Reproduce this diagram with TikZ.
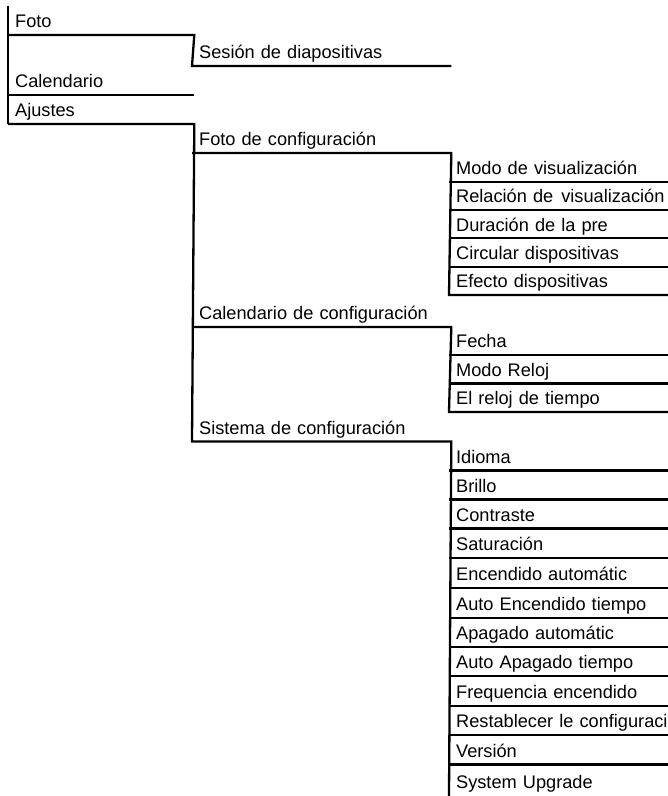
\documentclass[tikz,border=0pt]{standalone}
\usepackage{fontspec}
\setmainfont{Liberation Sans}
\begin{document}
\begin{tikzpicture}[x=1pt, y=-1pt, line width=2.3pt,
  item/.style={anchor=south west, inner xsep=6pt, inner ysep=2pt, text height=19pt, text depth=4pt, font=\fontsize{18.2}{20}\selectfont},
  lvlnull/.style={item, text width=172pt},
  lvleins/.style={item, text width=245pt},
  lvlzwei/.style={item, text width=216pt}]
\useasboundingbox (0,0) rectangle (668,796);
\node[lvlnull] (foto) at (8,35) {Foto};
\node[lvlnull] (calendario) at (8,95) {Calendario};
\node[lvlnull] (ajustes) at (8,124) {Ajustes};
\node[lvleins] (sesion) at (192,66) {Sesión de diapositivas};
\node[lvleins] (fotocfg) at (192,153) {Foto de configuración};
\node[lvleins] (calcfg) at (192,327) {Calendario de configuración};
\node[lvleins] (sistcfg) at (192,441.5) {Sistema de configuración};
\node[lvlzwei] (modo) at (449,181.7) {Modo de visualización};
\node[lvlzwei] (relacion) at (449,210) {Relación de{\kern2pt} visualización};
\node[lvlzwei] (duracion) at (449,238.3) {Duración de la pre};
\node[lvlzwei] (circular) at (449,266.7) {Circular dispositivas};
\node[lvlzwei] (efecto) at (449,295) {Efecto dispositivas};
\node[lvlzwei] (fecha) at (449,355) {Fecha};
\node[lvlzwei] (modoreloj) at (449,383.5) {Modo Reloj};
\node[lvlzwei] (reloj) at (449,412) {El reloj de tiempo};
\node[lvlzwei] (idioma) at (449,470.5) {Idioma};
\node[lvlzwei] (brillo) at (449,499.5) {Brillo};
\node[lvlzwei] (contraste) at (449,528.5) {Contraste};
\node[lvlzwei] (saturacion) at (449,558) {Saturación};
\node[lvlzwei] (encauto) at (449,588) {Encendido automátic};
\node[lvlzwei] (enctiempo) at (449,617.7) {Auto Encendido tiempo};
\node[lvlzwei] (apaauto) at (449,646.7) {Apagado automátic};
\node[lvlzwei] (apatiempo) at (449,676) {Auto Apagado tiempo};
\node[lvlzwei] (frecuencia) at (449,705.7) {Frequencia encendido};
\node[lvlzwei] (reset) at (449,735) {Restablecer le configuraci};
\node[lvlzwei] (version) at (449,764.5) {Versión};
\node[lvlzwei] (upgrade) at (449,796) {System Upgrade};
\draw (foto.north west) -- (ajustes.south west);
\draw (foto.south west) -- (foto.south east) -- (sesion.south west) -- (sesion.south east);
\draw (calendario.south west) -- (calendario.south east);
\draw (ajustes.south west) -- (ajustes.south east) -- (sistcfg.south west) -- (sistcfg.south east) -- (upgrade.south west);
\draw (fotocfg.south west) -- (fotocfg.south east) -- (efecto.south west) -- (efecto.south east);
\draw (calcfg.south west) -- (calcfg.south east) -- (reloj.south west) -- (reloj.south east);
\draw (modo.south west) -- (modo.south east);
\draw (relacion.south west) -- (relacion.south east);
\draw (duracion.south west) -- (duracion.south east);
\draw (circular.south west) -- (circular.south east);
\draw (fecha.south west) -- (fecha.south east);
\draw (modoreloj.south west) -- (modoreloj.south east);
\draw (idioma.south west) -- (idioma.south east);
\draw (brillo.south west) -- (brillo.south east);
\draw (contraste.south west) -- (contraste.south east);
\draw (saturacion.south west) -- (saturacion.south east);
\draw (encauto.south west) -- (encauto.south east);
\draw (enctiempo.south west) -- (enctiempo.south east);
\draw (apaauto.south west) -- (apaauto.south east);
\draw (apatiempo.south west) -- (apatiempo.south east);
\draw (frecuencia.south west) -- (frecuencia.south east);
\draw (reset.south west) -- (reset.south east);
\draw (version.south west) -- (version.south east);
\end{tikzpicture}
\end{document}
